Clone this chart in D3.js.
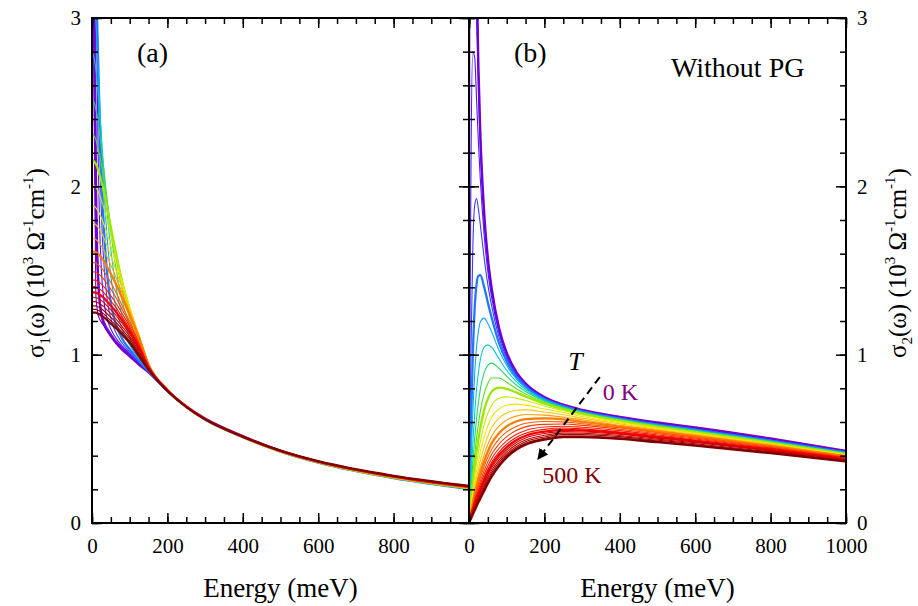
<!DOCTYPE html>
<html><head><meta charset="utf-8">
<script src="https://cdn.jsdelivr.net/npm/d3@7"></script>
<style>body{margin:0;background:#fff}</style>
</head><body>
<script>
// ---------------- DATA ----------------
const energies = [0, 2, 5, 10, 15, 20, 25, 30, 40, 50, 60, 80, 100, 125, 150, 200, 250, 300, 400, 500, 600, 800, 1000];
const temperatures = [0,20,40,60,80,100,120,140,160,180,200,220,240,260,280,300,320,340,360,380,400,420,440,460,480,500];
const curveColors = ["#7d00b4","#7200d2","#6400ec","#4f14ff","#3a3cff","#1f78ff","#12a8f5","#00ccd0","#20d870","#58dc20","#9ce600","#c8ec00","#f0e600","#ffc800","#ffa000","#ff7c00","#ff5a00","#ff3c00","#ff1e00","#ff0a00","#f00000","#d80000","#c00000","#a80000","#940000","#800000"];

// sigma1 (panel a), 10^3 Ohm^-1 cm^-1
const s1_0   = [12, 6.5, 3.1, 1.9, 1.5, 1.32, 1.235, 1.19, 1.145, 1.11, 1.08, 1.03, 0.99, 0.94, 0.895, 0.785, 0.692, 0.621, 0.516, 0.429, 0.362, 0.272, 0.21];
const s1_20  = [29.85, 13.1, 2.69, 1.366, 1.25, 1.212, 1.192, 1.176, 1.144, 1.115, 1.086, 1.036, 0.995, 0.943, 0.896, 0.785, 0.691, 0.619, 0.514, 0.428, 0.361, 0.27, 0.208];
const s1_40  = [11.45, 10.15, 6.19, 2.587, 1.639, 1.363, 1.262, 1.213, 1.161, 1.125, 1.093, 1.043, 1.001, 0.947, 0.897, 0.785, 0.69, 0.617, 0.512, 0.426, 0.36, 0.269, 0.206];
const s1_60  = [6.77, 6.55, 5.58, 3.64, 2.40, 1.79, 1.50, 1.351, 1.215, 1.152, 1.111, 1.052, 1.008, 0.951, 0.898, 0.785, 0.69, 0.615, 0.51, 0.425, 0.359, 0.267, 0.204];
const s1_80  = [4.83, 4.77, 4.47, 3.655, 2.84, 2.234, 1.839, 1.591, 1.332, 1.214, 1.147, 1.069, 1.017, 0.955, 0.90, 0.785, 0.69, 0.615, 0.51, 0.424, 0.359, 0.266, 0.203];
const s1_100 = [3.81, 3.787, 3.67, 3.31, 2.86, 2.433, 2.084, 1.819, 1.485, 1.307, 1.205, 1.095, 1.032, 0.963, 0.902, 0.785, 0.69, 0.615, 0.51, 0.424, 0.358, 0.266, 0.202];
const s1_120 = [3.195, 3.187, 3.139, 2.986, 2.765, 2.514, 2.27, 2.049, 1.70, 1.468, 1.317, 1.148, 1.058, 0.974, 0.903, 0.786, 0.69, 0.615, 0.51, 0.424, 0.358, 0.266, 0.202];
const s1_140 = [2.796, 2.792, 2.769, 2.697, 2.583, 2.443, 2.291, 2.139, 1.854, 1.625, 1.451, 1.229, 1.103, 0.994, 0.909, 0.786, 0.69, 0.615, 0.51, 0.424, 0.359, 0.266, 0.203];
const s1_160 = [2.515, 2.513, 2.501, 2.462, 2.399, 2.317, 2.226, 2.126, 1.922, 1.73, 1.565, 1.321, 1.164, 1.026, 0.916, 0.787, 0.69, 0.615, 0.51, 0.425, 0.359, 0.267, 0.204];
const s1_180 = [2.31, 2.309, 2.301, 2.278, 2.238, 2.185, 2.124, 2.057, 1.909, 1.76, 1.62, 1.387, 1.217, 1.058, 0.924, 0.788, 0.69, 0.615, 0.51, 0.425, 0.36, 0.268, 0.205];
const s1_200 = [2.155, 2.155, 2.149, 2.134, 2.106, 2.07, 2.028, 1.981, 1.872, 1.757, 1.643, 1.433, 1.263, 1.091, 0.934, 0.79, 0.69, 0.615, 0.51, 0.425, 0.36, 0.269, 0.206];
const s1_220 = [2.01, 2.01, 2.007, 1.996, 1.975, 1.948, 1.917, 1.882, 1.80, 1.71, 1.618, 1.44, 1.283, 1.111, 0.94, 0.791, 0.691, 0.616, 0.51, 0.425, 0.361, 0.27, 0.207];
const s1_240 = [1.884, 1.884, 1.882, 1.874, 1.857, 1.837, 1.812, 1.784, 1.719, 1.646, 1.571, 1.419, 1.277, 1.113, 0.943, 0.792, 0.691, 0.616, 0.511, 0.425, 0.361, 0.27, 0.208];
const s1_260 = [1.78, 1.78, 1.778, 1.773, 1.76, 1.744, 1.724, 1.701, 1.646, 1.587, 1.525, 1.394, 1.266, 1.111, 0.944, 0.792, 0.692, 0.616, 0.511, 0.425, 0.362, 0.271, 0.209];
const s1_280 = [1.69, 1.69, 1.689, 1.685, 1.674, 1.661, 1.646, 1.626, 1.582, 1.532, 1.479, 1.366, 1.253, 1.107, 0.943, 0.792, 0.692, 0.617, 0.511, 0.426, 0.362, 0.272, 0.21];
const s1_300 = [1.612, 1.612, 1.612, 1.609, 1.60, 1.59, 1.577, 1.561, 1.522, 1.48, 1.436, 1.337, 1.235, 1.098, 0.942, 0.792, 0.692, 0.617, 0.511, 0.426, 0.363, 0.273, 0.211];
const s1_320 = [1.547, 1.547, 1.547, 1.544, 1.536, 1.527, 1.515, 1.501, 1.465, 1.427, 1.387, 1.291, 1.198, 1.072, 0.934, 0.79, 0.692, 0.617, 0.512, 0.427, 0.363, 0.274, 0.212];
const s1_340 = [1.492, 1.492, 1.492, 1.49, 1.483, 1.475, 1.464, 1.452, 1.421, 1.388, 1.353, 1.269, 1.184, 1.065, 0.932, 0.79, 0.692, 0.617, 0.512, 0.427, 0.364, 0.274, 0.213];
const s1_360 = [1.443, 1.443, 1.443, 1.442, 1.435, 1.428, 1.419, 1.407, 1.38, 1.35, 1.319, 1.244, 1.167, 1.056, 0.93, 0.79, 0.692, 0.617, 0.512, 0.428, 0.364, 0.275, 0.214];
const s1_380 = [1.404, 1.404, 1.404, 1.403, 1.397, 1.391, 1.382, 1.372, 1.346, 1.319, 1.291, 1.223, 1.152, 1.047, 0.928, 0.789, 0.692, 0.617, 0.513, 0.428, 0.365, 0.276, 0.215];
const s1_400 = [1.37, 1.37, 1.37, 1.369, 1.364, 1.358, 1.349, 1.34, 1.316, 1.291, 1.265, 1.203, 1.137, 1.038, 0.925, 0.789, 0.692, 0.617, 0.513, 0.429, 0.365, 0.277, 0.216];
const s1_420 = [1.341, 1.341, 1.341, 1.34, 1.335, 1.329, 1.321, 1.312, 1.29, 1.266, 1.242, 1.185, 1.123, 1.029, 0.922, 0.788, 0.691, 0.617, 0.513, 0.429, 0.366, 0.278, 0.217];
const s1_440 = [1.315, 1.315, 1.315, 1.315, 1.309, 1.304, 1.296, 1.288, 1.266, 1.244, 1.221, 1.167, 1.109, 1.019, 0.92, 0.788, 0.691, 0.616, 0.513, 0.43, 0.366, 0.278, 0.218];
const s1_460 = [1.29, 1.29, 1.29, 1.29, 1.285, 1.28, 1.272, 1.264, 1.243, 1.221, 1.20, 1.15, 1.095, 1.009, 0.916, 0.787, 0.69, 0.616, 0.513, 0.43, 0.367, 0.279, 0.219];
const s1_480 = [1.269, 1.269, 1.269, 1.269, 1.264, 1.259, 1.252, 1.244, 1.223, 1.202, 1.182, 1.134, 1.082, 0.999, 0.913, 0.786, 0.69, 0.616, 0.513, 0.43, 0.367, 0.28, 0.22];
const s1_500 = [1.25, 1.25, 1.25, 1.25, 1.245, 1.24, 1.233, 1.225, 1.205, 1.185, 1.165, 1.12, 1.07, 0.99, 0.91, 0.785, 0.69, 0.616, 0.513, 0.43, 0.367, 0.28, 0.22];

// sigma2 (panel b), 10^3 Ohm^-1 cm^-1
const s2_0   = [80, 31.9, 12.72, 6.39, 4.32, 3.31, 2.71, 2.324, 1.855, 1.578, 1.398, 1.157, 1.012, 0.90, 0.83, 0.748, 0.703, 0.672, 0.63, 0.597, 0.568, 0.502, 0.428];
const s2_20  = [0, 14.13, 10.6, 6.09, 4.23, 3.264, 2.683, 2.305, 1.842, 1.568, 1.389, 1.15, 1.007, 0.897, 0.828, 0.746, 0.701, 0.67, 0.628, 0.595, 0.565, 0.499, 0.427];
const s2_40  = [0, 2.94, 4.96, 4.61, 3.695, 3.02, 2.551, 2.224, 1.803, 1.544, 1.372, 1.141, 1.001, 0.893, 0.825, 0.745, 0.70, 0.669, 0.626, 0.592, 0.563, 0.497, 0.425];
const s2_60  = [0, 0.946, 2.054, 2.80, 2.767, 2.521, 2.262, 2.043, 1.717, 1.495, 1.341, 1.125, 0.992, 0.888, 0.822, 0.743, 0.698, 0.667, 0.624, 0.59, 0.56, 0.495, 0.423];
const s2_80  = [0, 0.419, 0.986, 1.619, 1.885, 1.927, 1.865, 1.772, 1.578, 1.416, 1.291, 1.101, 0.979, 0.88, 0.817, 0.74, 0.696, 0.665, 0.622, 0.587, 0.557, 0.492, 0.421];
const s2_100 = [0, 0.229, 0.555, 0.991, 1.272, 1.417, 1.469, 1.472, 1.404, 1.309, 1.221, 1.067, 0.96, 0.87, 0.811, 0.737, 0.694, 0.663, 0.62, 0.585, 0.555, 0.49, 0.419];
const s2_120 = [0, 0.143, 0.352, 0.654, 0.886, 1.044, 1.14, 1.194, 1.217, 1.185, 1.136, 1.024, 0.936, 0.857, 0.803, 0.733, 0.691, 0.661, 0.618, 0.582, 0.552, 0.487, 0.418];
const s2_140 = [0, 0.099, 0.246, 0.466, 0.649, 0.792, 0.894, 0.969, 1.044, 1.058, 1.044, 0.974, 0.906, 0.841, 0.793, 0.728, 0.689, 0.658, 0.616, 0.58, 0.549, 0.485, 0.416];
const s2_160 = [0, 0.073, 0.185, 0.353, 0.499, 0.621, 0.716, 0.794, 0.892, 0.937, 0.95, 0.918, 0.872, 0.821, 0.781, 0.723, 0.685, 0.656, 0.613, 0.577, 0.547, 0.482, 0.414];
const s2_180 = [0, 0.058, 0.146, 0.281, 0.40, 0.504, 0.589, 0.663, 0.768, 0.829, 0.861, 0.861, 0.836, 0.799, 0.767, 0.716, 0.681, 0.653, 0.61, 0.574, 0.544, 0.48, 0.412];
const s2_200 = [0, 0.048, 0.121, 0.232, 0.333, 0.422, 0.497, 0.565, 0.669, 0.737, 0.78, 0.804, 0.797, 0.776, 0.752, 0.709, 0.677, 0.65, 0.608, 0.572, 0.541, 0.477, 0.41];
const s2_220 = [0, 0.04, 0.102, 0.196, 0.281, 0.357, 0.422, 0.483, 0.581, 0.651, 0.70, 0.741, 0.749, 0.742, 0.728, 0.695, 0.667, 0.642, 0.602, 0.567, 0.537, 0.474, 0.408];
const s2_240 = [0, 0.034, 0.087, 0.168, 0.241, 0.307, 0.365, 0.419, 0.509, 0.577, 0.628, 0.679, 0.70, 0.706, 0.70, 0.677, 0.656, 0.633, 0.596, 0.562, 0.532, 0.47, 0.405];
const s2_260 = [0, 0.03, 0.076, 0.147, 0.211, 0.27, 0.32, 0.369, 0.451, 0.516, 0.567, 0.625, 0.654, 0.67, 0.672, 0.659, 0.643, 0.623, 0.589, 0.556, 0.527, 0.467, 0.402];
const s2_280 = [0, 0.026, 0.068, 0.13, 0.188, 0.24, 0.286, 0.329, 0.405, 0.467, 0.516, 0.577, 0.612, 0.635, 0.645, 0.641, 0.629, 0.613, 0.581, 0.55, 0.522, 0.462, 0.399];
const s2_300 = [0, 0.024, 0.061, 0.117, 0.169, 0.216, 0.257, 0.297, 0.366, 0.425, 0.473, 0.535, 0.574, 0.603, 0.617, 0.621, 0.615, 0.601, 0.573, 0.543, 0.516, 0.458, 0.396];
const s2_320 = [0, 0.021, 0.055, 0.106, 0.153, 0.196, 0.234, 0.271, 0.336, 0.391, 0.437, 0.50, 0.541, 0.574, 0.593, 0.603, 0.601, 0.59, 0.565, 0.537, 0.51, 0.454, 0.393];
const s2_340 = [0, 0.02, 0.05, 0.097, 0.14, 0.18, 0.215, 0.249, 0.31, 0.363, 0.408, 0.47, 0.513, 0.549, 0.571, 0.586, 0.588, 0.58, 0.557, 0.53, 0.505, 0.449, 0.39];
const s2_360 = [0, 0.018, 0.046, 0.089, 0.129, 0.166, 0.199, 0.23, 0.288, 0.339, 0.382, 0.444, 0.488, 0.526, 0.55, 0.57, 0.575, 0.569, 0.549, 0.523, 0.499, 0.445, 0.387];
const s2_380 = [0, 0.017, 0.042, 0.082, 0.119, 0.154, 0.185, 0.214, 0.269, 0.319, 0.361, 0.423, 0.468, 0.508, 0.533, 0.556, 0.564, 0.559, 0.541, 0.517, 0.493, 0.441, 0.384];
const s2_400 = [0, 0.015, 0.039, 0.076, 0.111, 0.143, 0.172, 0.20, 0.253, 0.301, 0.343, 0.405, 0.45, 0.491, 0.518, 0.543, 0.553, 0.55, 0.534, 0.51, 0.487, 0.436, 0.381];
const s2_420 = [0, 0.014, 0.036, 0.07, 0.103, 0.134, 0.161, 0.188, 0.238, 0.286, 0.327, 0.389, 0.435, 0.477, 0.505, 0.532, 0.543, 0.541, 0.527, 0.504, 0.482, 0.432, 0.378];
const s2_440 = [0, 0.013, 0.033, 0.065, 0.095, 0.125, 0.151, 0.176, 0.225, 0.272, 0.312, 0.375, 0.422, 0.465, 0.493, 0.521, 0.534, 0.533, 0.52, 0.498, 0.477, 0.428, 0.375];
const s2_460 = [0, 0.012, 0.03, 0.06, 0.088, 0.116, 0.141, 0.165, 0.213, 0.258, 0.299, 0.362, 0.41, 0.453, 0.483, 0.511, 0.525, 0.525, 0.513, 0.492, 0.471, 0.424, 0.371];
const s2_480 = [0, 0.011, 0.028, 0.055, 0.082, 0.108, 0.132, 0.155, 0.201, 0.246, 0.286, 0.35, 0.40, 0.444, 0.473, 0.503, 0.517, 0.517, 0.506, 0.486, 0.465, 0.419, 0.368];
const s2_500 = [0, 0.01, 0.025, 0.05, 0.075, 0.10, 0.123, 0.145, 0.19, 0.235, 0.275, 0.34, 0.39, 0.435, 0.465, 0.495, 0.51, 0.51, 0.50, 0.48, 0.46, 0.415, 0.365];

const xTickLabelsA = [0, 200, 400, 600, 800];
const xTickLabelsB = [0, 200, 400, 600, 800, 1000];
const xMajorTicks = [0, 200, 400, 600, 800, 1000];
const yTickLabels = [0, 1, 2, 3];

const sigma1Series = [s1_0,s1_20,s1_40,s1_60,s1_80,s1_100,s1_120,s1_140,s1_160,s1_180,s1_200,s1_220,s1_240,s1_260,s1_280,s1_300,s1_320,s1_340,s1_360,s1_380,s1_400,s1_420,s1_440,s1_460,s1_480,s1_500];
const sigma2Series = [s2_0,s2_20,s2_40,s2_60,s2_80,s2_100,s2_120,s2_140,s2_160,s2_180,s2_200,s2_220,s2_240,s2_260,s2_280,s2_300,s2_320,s2_340,s2_360,s2_380,s2_400,s2_420,s2_440,s2_460,s2_480,s2_500];

// ---------------- DRAWING ----------------
const FONT = "'Liberation Serif','Times New Roman',serif";
const svg = d3.select("body").append("svg").attr("width", 918).attr("height", 606)
  .style("font-family", FONT);

const xa = d3.scaleLinear().domain([0, 1000]).range([92, 469]);
const xb = d3.scaleLinear().domain([0, 1000]).range([469, 846]);
const y = d3.scaleLinear().domain([0, 3]).range([523, 18]);

const defs = svg.append("defs");
defs.append("clipPath").attr("id", "clipA").append("rect")
  .attr("x", xa(0)).attr("y", y(3)).attr("width", xa(1000) - xa(0)).attr("height", y(0) - y(3));
defs.append("clipPath").attr("id", "clipB").append("rect")
  .attr("x", xb(0)).attr("y", y(3)).attr("width", xb(1000) - xb(0)).attr("height", y(0) - y(3));
defs.append("marker").attr("id", "arrow").attr("viewBox", "0 0 10 10")
  .attr("refX", 9).attr("refY", 5).attr("markerWidth", 11).attr("markerHeight", 11)
  .attr("markerUnits", "userSpaceOnUse").attr("orient", "auto")
  .append("path").attr("d", "M0,0 L10,5 L0,10 Z").attr("fill", "#000");

function drawCurves(series, xs, clipId) {
  const g = svg.append("g").attr("clip-path", `url(#${clipId})`);
  const line = d3.line().x((d, i) => xs(energies[i])).y(d => y(d)).curve(d3.curveMonotoneX);
  for (let k = 0; k < temperatures.length; k++) {
    const thick = temperatures[k] % 100 === 0;
    g.append("path").attr("d", line(series[k])).attr("fill", "none")
      .attr("stroke", curveColors[k]).attr("stroke-width", thick ? 2.3 : 1.1)
      .attr("stroke-linejoin", "round");
  }
}
drawCurves(sigma1Series, xa, "clipA");
drawCurves(sigma2Series, xb, "clipB");

function styleAxis(g) {
  g.select(".domain").remove();
  g.selectAll("line").attr("stroke", "#000").attr("stroke-width", 1.5);
  g.attr("font-family", FONT).attr("font-size", 21);
  g.selectAll("text").attr("fill", "#000");
}
const minorX = d3.range(0, 1001, 50);
const minorY = d3.range(0, 3.001, 0.2).map(v => +v.toFixed(1));

function panelAxes(xs, labelsX, leftLabels, rightLabels) {
  svg.append("g").attr("transform", `translate(0,${y(0)})`)
    .call(d3.axisBottom(xs).tickValues(minorX).tickSize(-6).tickSizeOuter(0).tickFormat("")).call(styleAxis);
  svg.append("g").attr("transform", `translate(0,${y(0)})`)
    .call(d3.axisBottom(xs).tickValues(xMajorTicks).tickSize(-10).tickSizeOuter(0).tickPadding(15)
      .tickFormat(d => labelsX.includes(d) ? d : "")).call(styleAxis);
  svg.append("g").attr("transform", `translate(0,${y(3)})`)
    .call(d3.axisTop(xs).tickValues(minorX).tickSize(-6).tickSizeOuter(0).tickFormat("")).call(styleAxis);
  svg.append("g").attr("transform", `translate(0,${y(3)})`)
    .call(d3.axisTop(xs).tickValues(xMajorTicks).tickSize(-10).tickSizeOuter(0).tickFormat("")).call(styleAxis);
  svg.append("g").attr("transform", `translate(${xs(0)},0)`)
    .call(d3.axisLeft(y).tickValues(minorY).tickSize(-6).tickSizeOuter(0).tickFormat("")).call(styleAxis);
  svg.append("g").attr("transform", `translate(${xs(0)},0)`)
    .call(d3.axisLeft(y).tickValues(yTickLabels).tickSize(-10).tickSizeOuter(0).tickPadding(11)
      .tickFormat(d => leftLabels ? d : "")).call(styleAxis);
  svg.append("g").attr("transform", `translate(${xs(1000)},0)`)
    .call(d3.axisRight(y).tickValues(minorY).tickSize(-6).tickSizeOuter(0).tickFormat("")).call(styleAxis);
  svg.append("g").attr("transform", `translate(${xs(1000)},0)`)
    .call(d3.axisRight(y).tickValues(yTickLabels).tickSize(-10).tickSizeOuter(0).tickPadding(11)
      .tickFormat(d => rightLabels ? d : "")).call(styleAxis);
  svg.append("rect").attr("x", xs(0)).attr("y", y(3)).attr("width", xs(1000) - xs(0))
    .attr("height", y(0) - y(3)).attr("fill", "none").attr("stroke", "#000").attr("stroke-width", 2);
}
panelAxes(xa, xTickLabelsA, true, false);
panelAxes(xb, xTickLabelsB, false, true);

[xa, xb].forEach(xs => {
  svg.append("text").attr("x", xs(500)).attr("y", 597).attr("text-anchor", "middle")
    .attr("font-size", 27).text("Energy (meV)");
});

function yTitle(xPos, sub) {
  const t = svg.append("text").attr("transform", `translate(${xPos},263) rotate(-90)`)
    .attr("text-anchor", "middle").attr("font-size", 25);
  t.append("tspan").text("σ");
  t.append("tspan").attr("font-size", 15).attr("dy", 6).text(sub);
  t.append("tspan").attr("dy", -6).text("(ω) (10");
  t.append("tspan").attr("font-size", 15).attr("dy", -11).text("3");
  t.append("tspan").attr("dy", 11).text(" Ω");
  t.append("tspan").attr("font-size", 15).attr("dy", -11).text("-1");
  t.append("tspan").attr("dy", 11).text("cm");
  t.append("tspan").attr("font-size", 15).attr("dy", -11).text("-1");
  t.append("tspan").attr("dy", 11).text(")");
}
yTitle(44, "1");
yTitle(906, "2");

svg.append("text").attr("x", 137).attr("y", 62).attr("font-size", 28).text("(a)");
svg.append("text").attr("x", 514).attr("y", 62).attr("font-size", 28).text("(b)");
svg.append("text").attr("x", 671).attr("y", 77).attr("font-size", 28).text("Without PG");

svg.append("line")
  .attr("x1", xb(347)).attr("y1", y(0.867)).attr("x2", xb(183)).attr("y2", y(0.38))
  .attr("stroke", "#000").attr("stroke-width", 2).attr("stroke-dasharray", "8,5")
  .attr("marker-end", "url(#arrow)");
svg.append("text").attr("x", xb(263)).attr("y", y(0.909)).attr("font-size", 26)
  .attr("font-style", "italic").text("T");
svg.append("text").attr("x", xb(355)).attr("y", y(0.731)).attr("font-size", 24)
  .attr("fill", "#800080").text("0 K");
svg.append("text").attr("x", xb(194)).attr("y", y(0.238)).attr("font-size", 24)
  .attr("fill", "#800000").text("500 K");
</script>
</body></html>
